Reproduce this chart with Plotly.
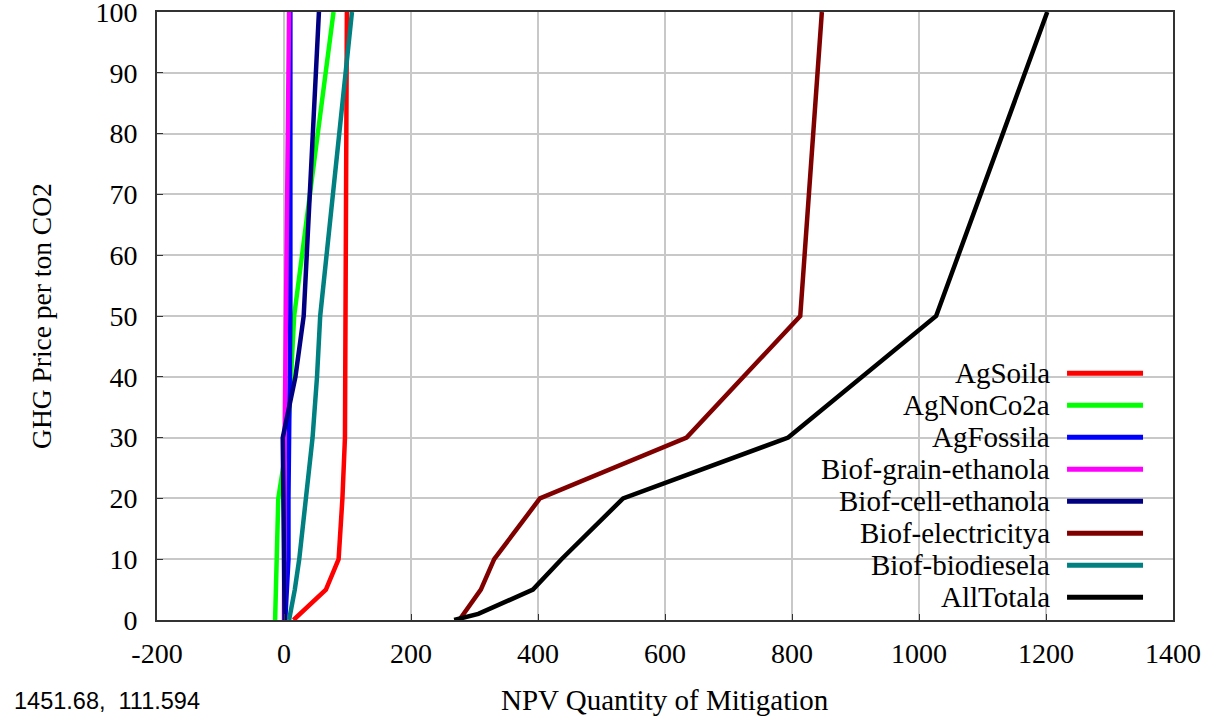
import plotly.graph_objects as go

# ---- data ----
series_names = ["AgSoila", "AgNonCo2a", "AgFossila", "Biof-grain-ethanola",
                "Biof-cell-ethanola", "Biof-electricitya", "Biof-biodiesela", "AllTotala"]
series_colors = ["#ff0000", "#00ff00", "#0000ff", "#ff00ff",
                 "#000080", "#800000", "#008080", "#000000"]

agsoil_price = [0, 5, 10, 20, 30, 50, 100]
agsoil_qty = [15, 66, 86, 92, 96, 97, 99]

agnonco2_price = [0, 5, 10, 20, 30, 50, 100]
agnonco2_qty = [-14, -13, -12, -9, 6, 16, 78]

agfossil_price = [0, 5, 10, 20, 30, 50, 100]
agfossil_qty = [2, 5, 7, 7, 8, 10, 10]

grain_price = [0, 5, 10, 20, 30, 50, 100]
grain_qty = [0, 0, 0, 1, 1, 3, 8]

cell_price = [0, 5, 10, 20, 30, 40, 50, 100]
cell_qty = [1, 1, 0, -1, -2, 18, 31, 55]

elec_price = [0, 5, 10, 20, 30, 50, 100]
elec_qty = [276, 310, 331, 403, 634, 813, 847]

biodiesel_price = [0, 5, 10, 20, 30, 40, 50, 100]
biodiesel_qty = [8, 17, 24, 34, 45, 52, 57, 107]

total_price = [0, 1, 5, 10, 20, 30, 50, 100]
total_qty = [268, 306, 392, 437, 534, 794, 1027, 1202]

x_ticks = [-200, 0, 200, 400, 600, 800, 1000, 1200, 1400]
x_tick_labels = ["-200", "0", "200", "400", "600", "800", "1000", "1200", "1400"]
y_ticks = [0, 10, 20, 30, 40, 50, 60, 70, 80, 90, 100]
y_tick_labels = ["0", "10", "20", "30", "40", "50", "60", "70", "80", "90", "100"]

series_x = [agsoil_qty, agnonco2_qty, agfossil_qty, grain_qty,
            cell_qty, elec_qty, biodiesel_qty, total_qty]
series_y = [agsoil_price, agnonco2_price, agfossil_price, grain_price,
            cell_price, elec_price, biodiesel_price, total_price]

SERIF = "Liberation Serif"

fig = go.Figure()
for name, color, xs, ys in zip(series_names, series_colors, series_x, series_y):
    fig.add_trace(go.Scatter(x=xs, y=ys, mode="lines", name=name,
                             line=dict(color=color, width=4.5),
                             showlegend=False))

axis_common = dict(showgrid=True, gridcolor="#c8c8c8", gridwidth=2,
                   showline=True, linecolor="#333333", linewidth=2, mirror=True,
                   ticks="inside", ticklen=6, tickcolor="#333333", tickwidth=1,
                   zeroline=False, automargin=False, ticklabeloverflow="allow",
                   tickfont=dict(family=SERIF, size=28, color="black"))

fig.update_xaxes(range=[-200, 1400], tickvals=x_ticks, ticktext=x_tick_labels,
                 ticklabelstandoff=7, **axis_common)
fig.update_yaxes(range=[0, 100], tickvals=y_ticks, ticktext=y_tick_labels,
                 ticklabelstandoff=12, **axis_common)

# white legend background covering the grid (between grid and traces)
shapes = [dict(type="rect", xref="paper", yref="paper", x0=0.577, x1=0.984,
               y0=0.010, y1=0.4326, fillcolor="white", line=dict(width=0),
               layer="between")]
annotations = []
row_top = 0.4057
row_step = 32 / 608
for i, (name, color) in enumerate(zip(series_names, series_colors)):
    yy = row_top - i * row_step
    annotations.append(dict(text=name, x=0.881, y=yy, xref="paper", yref="paper",
                            xanchor="right", yanchor="middle", showarrow=False,
                            font=dict(family=SERIF, size=29, color="black")))
    shapes.append(dict(type="line", xref="paper", yref="paper",
                       x0=0.8957, x1=0.9705, y0=yy, y1=yy,
                       line=dict(color=color, width=5), layer="above"))

annotations.append(dict(text="GHG Price per ton CO2", textangle=-90,
                        x=-0.1142, y=0.5, xref="paper", yref="paper",
                        xanchor="center", yanchor="middle", showarrow=False,
                        font=dict(family=SERIF, size=27.5, color="black")))
annotations.append(dict(text="NPV Quantity of Mitigation",
                        x=0.5, y=-0.1316, xref="paper", yref="paper",
                        xanchor="center", yanchor="middle", showarrow=False,
                        font=dict(family=SERIF, size=29, color="black")))
annotations.append(dict(text="1451.68,\u00a0 111.594",
                        x=-0.1427, y=-0.1333, xref="paper", yref="paper",
                        xanchor="left", yanchor="middle", showarrow=False,
                        font=dict(family="Liberation Sans", size=23.5, color="black")))

fig.update_layout(width=1219, height=717,
                  margin=dict(l=157, r=46, t=12, b=97),
                  paper_bgcolor="white", plot_bgcolor="white",
                  showlegend=False, shapes=shapes, annotations=annotations)

fig.write_html("out.html")
